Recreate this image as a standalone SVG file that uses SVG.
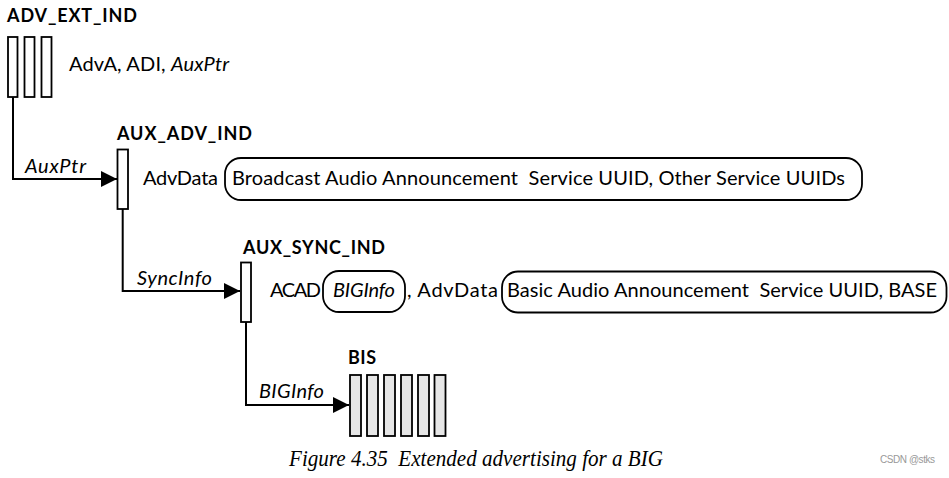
<svg xmlns="http://www.w3.org/2000/svg" width="949" height="478" viewBox="0 0 949 478">
<defs>
<marker id="arr" markerUnits="userSpaceOnUse" markerWidth="16" markerHeight="16" viewBox="0 0 14 14" refX="14" refY="7" orient="auto">
<path d="M0,0 L14,7 L0,14 Z" fill="#000"/>
</marker>
</defs>
<style>
.t{font-family:Lato,"Open Sans","Liberation Sans",sans-serif;font-size:20px;fill:#000}
.b{font-family:Lato,"Open Sans","Liberation Sans",sans-serif;font-size:18px;font-weight:bold;fill:#000}
.i{font-style:italic}
.pkt{fill:#fff;stroke:#000;stroke-width:1.8}
.bis{fill:#e6e6e6;stroke:#000;stroke-width:1.8}
.pill{fill:none;stroke:#000;stroke-width:1.8}
.ln{fill:none;stroke:#000;stroke-width:2;marker-end:url(#arr)}
.cap{font-family:"Liberation Serif",serif;font-style:italic;font-size:23px;fill:#000}
.wm{font-family:"Liberation Sans",sans-serif;font-size:10px;fill:#999}
</style>
<rect width="949" height="478" fill="#fff"/>
<g id="connectors">
<path class="ln" d="M13,97 V179 H117"/>
<path class="ln" d="M122.7,209 V291 H240"/>
<path class="ln" d="M246,322 V405 H349"/>
<text class="t i" x="25" y="173" textLength="61">AuxPtr</text>
<text class="t i" x="137" y="285" textLength="75">SyncInfo</text>
<text class="t i" x="259" y="398" textLength="65">BIGInfo</text>
</g>
<g id="adv_ext_ind">
<text class="b" x="7" y="22" textLength="130">ADV_EXT_IND</text>
<rect class="pkt" x="8" y="37" width="9.5" height="60"/>
<rect class="pkt" x="24.5" y="37" width="10" height="60"/>
<rect class="pkt" x="41.5" y="37" width="10" height="60"/>
<text class="t" x="69" y="71" textLength="160">AdvA, ADI, <tspan class="i">AuxPtr</tspan></text>
</g>
<g id="aux_adv_ind">
<text class="b" x="117" y="140" textLength="135">AUX_ADV_IND</text>
<rect class="pkt" x="117.5" y="149.5" width="10.5" height="59.5"/>
<text class="t" x="143" y="185" textLength="75">AdvData</text>
<rect class="pill" x="225" y="158" width="637" height="42" rx="16"/>
<text class="t" x="232" y="185" textLength="613">Broadcast Audio Announcement&#160; Service UUID, Other Service UUIDs</text>
</g>
<g id="aux_sync_ind">
<text class="b" x="243" y="254" textLength="142">AUX_SYNC_IND</text>
<rect class="pkt" x="241" y="262.5" width="10" height="59.5"/>
<text class="t" x="270" y="297" textLength="51">ACAD</text>
<rect class="pill" x="323" y="271" width="82" height="41" rx="16"/>
<text class="t i" x="333" y="297" textLength="62">BIGInfo</text>
<text class="t" x="407" y="297" textLength="91">, AdvData</text>
<rect class="pill" x="502" y="271.5" width="444.5" height="41" rx="16"/>
<text class="t" x="507" y="297" textLength="430">Basic Audio Announcement&#160; Service UUID, BASE</text>
</g>
<g id="bis">
<text class="b" x="348" y="364" textLength="28">BIS</text>
<rect class="bis" x="350" y="375" width="11" height="61"/>
<rect class="bis" x="367" y="375" width="11" height="61"/>
<rect class="bis" x="384" y="375" width="11" height="61"/>
<rect class="bis" x="401" y="375" width="11" height="61"/>
<rect class="bis" x="418" y="375" width="11" height="61"/>
<rect class="bis" x="434.5" y="375" width="11" height="61"/>
</g>
<g id="caption">
<text class="cap" x="289" y="466" textLength="374" lengthAdjust="spacingAndGlyphs">Figure 4.35&#160; Extended advertising for a BIG</text>
<text class="wm" x="880" y="463" textLength="55">CSDN @stks</text>
</g>
</svg>
